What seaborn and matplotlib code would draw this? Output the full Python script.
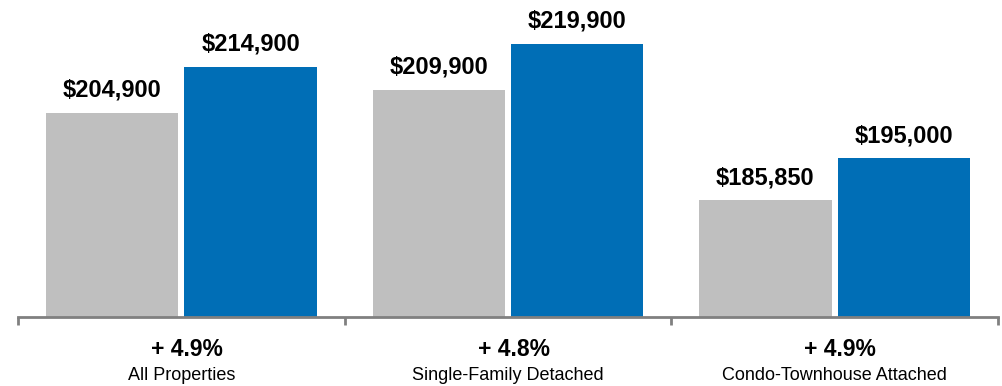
import matplotlib
matplotlib.use("Agg")
import matplotlib.pyplot as plt
import matplotlib.transforms as mtransforms
import seaborn as sns
import pandas as pd

categories = ["All Properties", "Single-Family Detached", "Condo-Townhouse Attached"]
prior_values = [204900, 209900, 185850]
current_values = [214900, 219900, 195000]
changes = ["+ 4.9%", "+ 4.8%", "+ 4.9%"]
series_names = ["Prior", "Current"]

df = pd.DataFrame({
    "category": categories * 2,
    "series": [series_names[0]] * 3 + [series_names[1]] * 3,
    "value": prior_values + current_values,
})

sns.set_theme(style="white")
plt.rcParams["font.family"] = ["Liberation Sans", "DejaVu Sans"]

fig = plt.figure(figsize=(10.03, 3.86), dpi=100)
ax = fig.add_axes([18 / 1003, (386 - 317) / 386, 980 / 1003, 317 / 386])

sns.barplot(data=df, x="category", y="value", hue="series", order=categories,
            hue_order=series_names, palette=["#BFBFBF", "#006EB6"],
            width=0.848, gap=0.045, ax=ax, legend=False, saturation=1,
            linewidth=0, errorbar=None)

ax.set_xlim(-0.5, 2.5)
ax.set_ylim(160500, 229413)
ax.set_xlabel("")
ax.set_ylabel("")
ax.set_yticks([])
for s in ["top", "right", "left"]:
    ax.spines[s].set_visible(False)
ax.spines["bottom"].set_color("#808080")
ax.spines["bottom"].set_linewidth(2)

ax.set_xticks([-0.5, 0.5, 1.5, 2.5])
ax.set_xticklabels([])
ax.tick_params(axis="x", which="major", direction="out", length=6, width=2,
               color="#808080", bottom=True)

for cont in ax.containers:
    for bar in cont:
        h = bar.get_height()
        ax.annotate(f"${h:,.0f}", (bar.get_x() + bar.get_width() / 2, h),
                    xytext=(0, 11.5), textcoords="offset points",
                    ha="center", va="baseline", fontsize=17, fontweight="bold",
                    color="#000000")

trans = mtransforms.blended_transform_factory(ax.transData, fig.transFigure)
for i, (cat, ch) in enumerate(zip(categories, changes)):
    ax.annotate(ch, (i, 1 - 356 / 386), xycoords=trans, xytext=(4, 0),
                textcoords="offset points", ha="center", va="baseline",
                fontsize=16.5, fontweight="bold", color="#000000")
    ax.text(i, 1 - 380 / 386, cat, transform=trans, ha="center", va="baseline",
            fontsize=13, color="#000000")

fig.savefig("out.png", dpi=100)
